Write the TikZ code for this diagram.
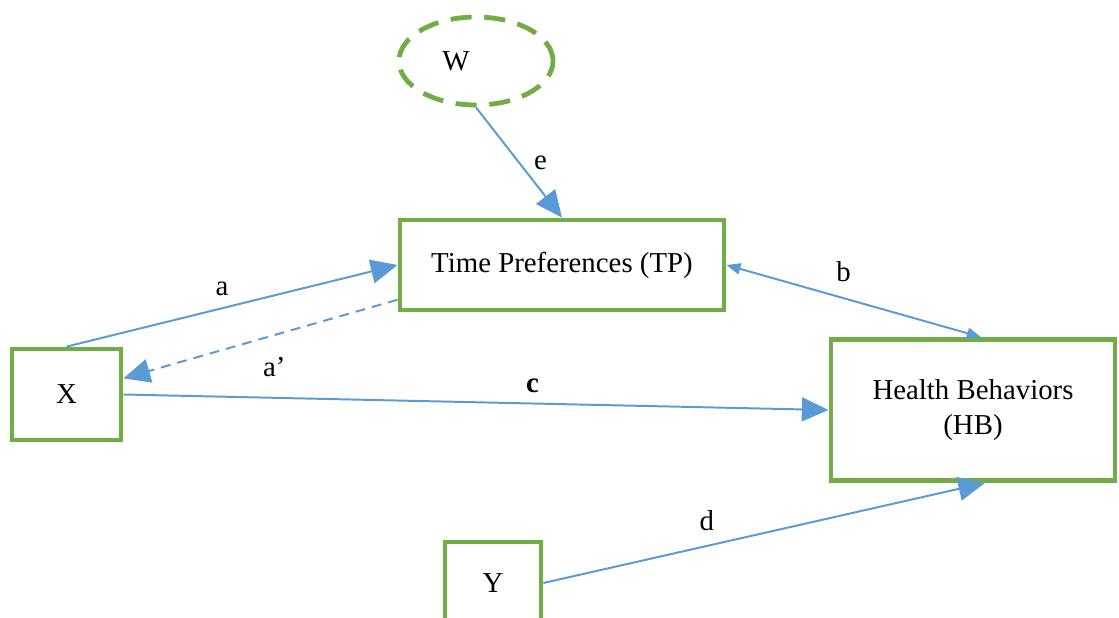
\documentclass[tikz,border=0pt]{standalone}
\usepackage{fontspec}
\setmainfont{Liberation Serif}
\usetikzlibrary{arrows.meta, shapes.geometric, positioning}
\definecolor{verde}{HTML}{70AD47}
\definecolor{azul}{HTML}{5B9BD5}
\tikzset{
	>={Triangle[length=19pt,width=17pt]}, % Puntas grandes y rellenas
	caja/.style={draw=verde, line width=3.4pt, fill=white, inner sep=0pt,
		align=center, font=\fontsize{20.5}{25.5}\selectfont}, % Variables
	flecha/.style={color=azul, line width=1.4pt,
		every edge/.append style={->}}, % Relaciones dirigidas
	etiqueta/.style={inner sep=0pt, text=black,
		font=\fontsize{20.5}{25.5}\selectfont} % Nombre de cada relacion
}

\begin{document}
\begin{tikzpicture}[x=0.025cm, y=-0.025cm]
	\useasboundingbox (0,0) rectangle (1119,618);
	\node[caja, minimum width=8.1cm, minimum height=2.25cm] (tp) at (562,265) {Time Preferences (TP)};
	\node[caja, minimum width=2.725cm, minimum height=2.275cm] (x) at (66.5,394.5) {X};
	\node[caja, minimum width=7.1cm, minimum height=3.525cm] (hb) at (973,410) {Health Behaviors\\(HB)};
	\node[caja, minimum width=2.4cm, minimum height=2.05cm] (y) at (493,583) {Y};
	\node[caja, ellipse, dash pattern=on 15pt off 9pt, minimum width=3.85cm, minimum height=2.2cm] (w) at (476,61) {W\hspace{1cm}};
	\draw[flecha]
		(w.south) edge node[etiqueta, midway, right=10pt] {e} (tp.north)
		(x.north) edge node[etiqueta, pos=0.47, above=8pt] {a} (tp.west)
		([yshift=9pt]tp.south west) edge[dashed, dash pattern=on 7pt off 5pt] node[etiqueta, pos=0.45, below=15pt] {a’} ([yshift=11.5pt]x.east)
		(x.east) edge node[etiqueta, pos=0.58, above=7pt] {\textbf{c}} (hb.west)
		(tp.east) edge[{Triangle[length=10pt,width=8pt]}-{Triangle[length=10pt,width=8pt]}] node[etiqueta, pos=0.46, above=11pt] {b} ([xshift=0.2cm]hb.north)
		(y.east) edge node[etiqueta, pos=0.37, above=10pt] {d} ([xshift=0.3cm]hb.south);
\end{tikzpicture}
\end{document}
